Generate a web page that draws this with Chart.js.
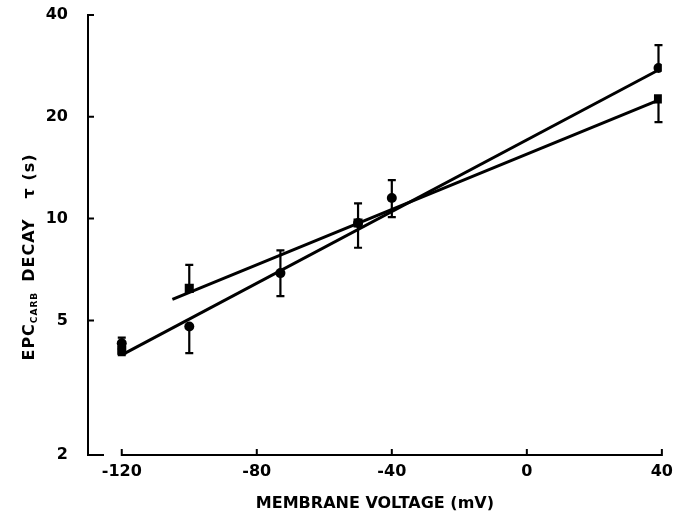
<!DOCTYPE html>
<html>
<head>
<meta charset="utf-8">
<script src="https://cdn.jsdelivr.net/npm/chart.js@4.4.0/dist/chart.umd.min.js"></script>
<style>
    body { margin: 0; background: #fff; }
</style>
</head>
<body>
<canvas id="my-chart" width="680" height="519"></canvas>
<script>
// * EPC decay time constant vs membrane voltage
// * circles and squares, each with a fitted exponential line

const xTicks = [-120, -80, -40, 0, 40]
const yTicks = [2, 5, 10, 20, 40]

// circles
const circleX = [-120, -100, -73, -50, -40, 39]
const circleY = [4.28, 4.8, 6.9, 9.7, 11.5, 27.9]
const circleHi = [4.45, null, 8.05, 11.1, 13.0, 32.6]
const circleLo = [4.12, 4.0, 5.9, 8.2, 10.1, null]

// squares
const squareX = [-120, -100, -50, 39]
const squareY = [4.08, 6.22, 9.7, 22.6]
const squareHi = [null, 7.3, null, null]
const squareLo = [3.95, null, null, 19.3]

// fitted lines (end points)
const circleFitX = [-119, 39]
const circleFitY = [4.0, 27.5]
const squareFitX = [-105, 38.5]
const squareFitY = [5.77, 22.3]

const ctx = document.getElementById('my-chart')
const font = 'DejaVu Sans'

function toPoints(xs, ys) {
    return xs.map((x, i) => ({ x: x, y: ys[i] }))
}

// error bars drawn from the scales, under the markers
const errorBars = {
    id: 'errorBars',
    beforeDatasetsDraw(chart) {
        const c = chart.ctx
        const xs = chart.scales.x
        const ys = chart.scales.y
        const sets = [
            [circleX, circleY, circleHi, circleLo],
            [squareX, squareY, squareHi, squareLo]
        ]
        c.save()
        c.strokeStyle = '#000'
        c.lineWidth = 2.2
        sets.forEach(([xv, yv, hi, lo]) => {
            for (let i = 0; i < xv.length; i++) {
                const px = xs.getPixelForValue(xv[i])
                const py = ys.getPixelForValue(yv[i])
                ;[hi[i], lo[i]].forEach((e) => {
                    if (e == null) return
                    const pe = ys.getPixelForValue(e)
                    c.beginPath()
                    c.moveTo(px, py)
                    c.lineTo(px, pe)
                    c.moveTo(px - 4, pe)
                    c.lineTo(px + 4, pe)
                    c.stroke()
                })
            }
        })
        c.restore()
    }
}

// axis lines with inward ticks, and the y title with its subscript
const paperAxes = {
    id: 'paperAxes',
    afterDraw(chart) {
        const c = chart.ctx
        const xs = chart.scales.x
        const ys = chart.scales.y
        const area = chart.chartArea
        c.save()
        c.strokeStyle = '#000'
        c.lineWidth = 2
        c.lineCap = 'square'

        // y axis
        c.beginPath()
        c.moveTo(area.left, area.top)
        c.lineTo(area.left, area.bottom)
        yTicks.forEach((v) => {
            const py = ys.getPixelForValue(v)
            c.moveTo(area.left, py)
            c.lineTo(area.left + (v === yTicks[0] ? 15 : 5), py)
        })
        c.stroke()

        // x axis, starts at the first tick
        const x0 = xs.getPixelForValue(xTicks[0])
        const x1 = xs.getPixelForValue(xTicks[xTicks.length - 1])
        c.beginPath()
        c.moveTo(x0, area.bottom)
        c.lineTo(x1, area.bottom)
        xTicks.forEach((v) => {
            const px = xs.getPixelForValue(v)
            c.moveTo(px, area.bottom)
            c.lineTo(px, area.bottom - 5)
        })
        c.stroke()

        // y title
        const parts = [
            { t: 'EPC', f: 'bold 16px ' + font, dy: 0, gap: 0 },
            { t: 'CARB', f: 'bold 9px ' + font, dy: 5, gap: 10 },
            { t: 'DECAY', f: 'bold 16px ' + font, dy: 0, gap: 20 },
            { t: 'τ (s)', f: 'bold 16px ' + font, dy: 0, gap: 0 }
        ]
        c.fillStyle = '#000'
        c.textBaseline = 'middle'
        c.letterSpacing = '1px'
        let total = 0
        parts.forEach((p) => {
            c.font = p.f
            p.w = c.measureText(p.t).width
            total += p.w + p.gap
        })
        c.translate(30, 257)
        c.rotate(-Math.PI / 2)
        let pos = -total / 2
        parts.forEach((p) => {
            c.font = p.f
            c.fillText(p.t, pos, p.dy)
            pos += p.w + p.gap
        })
        c.restore()
    }
}

new Chart(ctx, {
    type: 'scatter',
    data: {
        datasets: [
            {
                data: toPoints(circleX, circleY),
                pointStyle: 'circle',
                pointRadius: 5,
                backgroundColor: '#000',
                borderColor: '#000',
                borderWidth: 0
            },
            {
                data: toPoints(squareX, squareY),
                pointStyle: 'rect',
                pointRadius: 6.4,
                backgroundColor: '#000',
                borderColor: '#000',
                borderWidth: 0
            },
            {
                data: toPoints(circleFitX, circleFitY),
                showLine: true,
                pointRadius: 0,
                borderColor: '#000',
                borderWidth: 3
            },
            {
                data: toPoints(squareFitX, squareFitY),
                showLine: true,
                pointRadius: 0,
                borderColor: '#000',
                borderWidth: 3
            }
        ]
    },
    options: {
        responsive: false,
        animation: false,
        devicePixelRatio: 1,
        layout: { padding: { top: 15, right: 12, left: 0, bottom: 0 } },
        plugins: {
            legend: { display: false },
            tooltip: { enabled: false }
        },
        scales: {
            x: {
                type: 'linear',
                min: -130,
                max: 40,
                afterFit: (s) => { s.height = 64 },
                afterBuildTicks: (s) => { s.ticks = xTicks.map((v) => ({ value: v })) },
                grid: { display: false, drawTicks: false },
                border: { display: false },
                ticks: {
                    color: '#000',
                    padding: 7,
                    maxRotation: 0,
                    font: { family: font, weight: 'bold', size: 16 }
                },
                title: {
                    display: true,
                    text: 'MEMBRANE VOLTAGE (mV)',
                    color: '#000',
                    padding: { top: 0, bottom: 6 },
                    font: { family: font, weight: 'bold', size: 16 }
                }
            },
            y: {
                type: 'logarithmic',
                min: 2,
                max: 40,
                afterFit: (s) => {
                    s.width = 88
                    s.paddingTop = 0
                    s.paddingBottom = 0
                },
                afterBuildTicks: (s) => { s.ticks = yTicks.map((v) => ({ value: v })) },
                grid: { display: false, drawTicks: false },
                border: { display: false },
                ticks: {
                    color: '#000',
                    padding: 20,
                    callback: (v) => String(v),
                    font: { family: font, weight: 'bold', size: 16 }
                }
            }
        }
    },
    plugins: [errorBars, paperAxes]
})
</script>
</body>
</html>
